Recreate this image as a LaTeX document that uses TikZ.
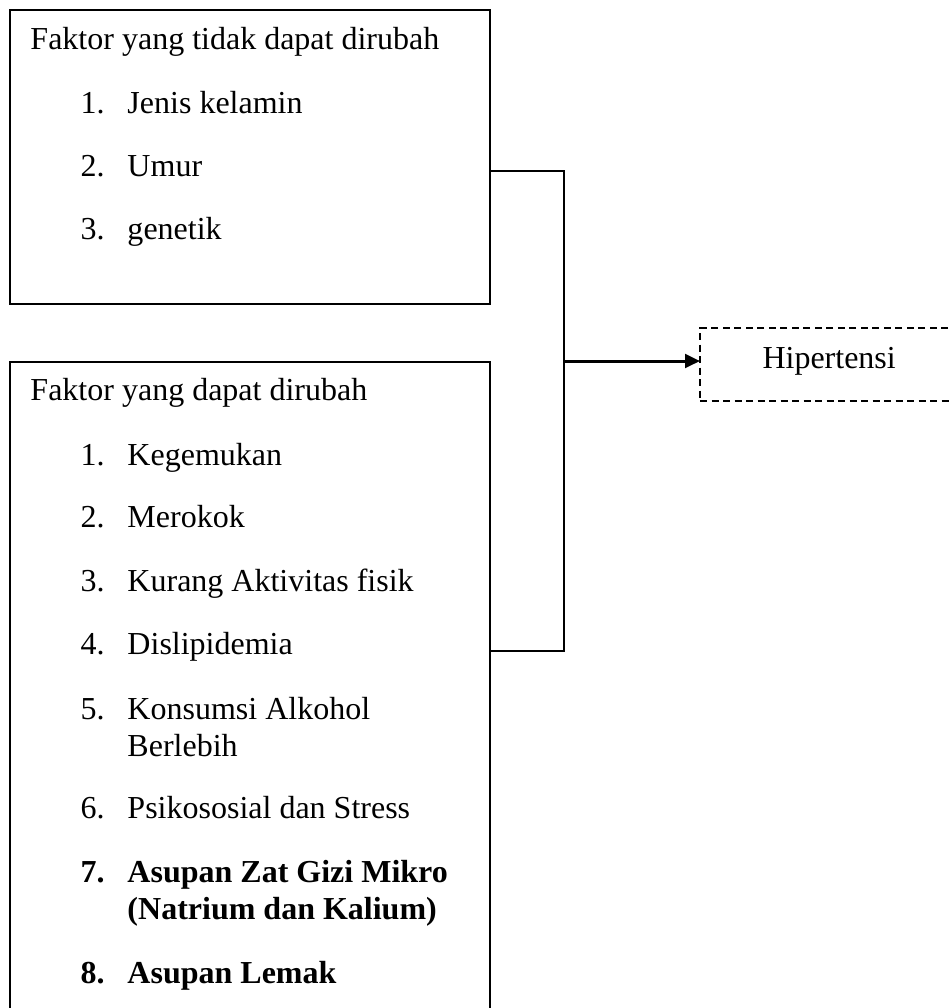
\documentclass[tikz,border=0pt]{standalone}
\usepackage{fontspec}
\setmainfont{Liberation Serif}
\usetikzlibrary{arrows.meta}
\begin{document}
\begin{tikzpicture}[x=0.4pt,y=-0.4pt,
  frame/.style={draw,line width=0.8pt,rectangle,inner sep=0pt,outer sep=0pt},
  txt/.style={anchor=base west,inner sep=0pt,font=\fontsize{12.8}{15}\selectfont},
  btxt/.style={txt,font=\fontsize{12.8}{15}\selectfont\bfseries},
  conn/.style={line width=0.8pt},
  arr/.style={line width=1.2pt,-{Triangle[length=6pt,width=5.5pt]}},
  dashbox/.style={draw,line width=0.6pt,dash pattern=on 2.8pt off 1.8pt,rectangle,inner sep=0pt,outer sep=0pt}]
\useasboundingbox (0,0) rectangle (948,1008);
\fill[white] (0,0) rectangle (948,1008);
% boxes
\node[frame,minimum width=192pt,minimum height=117.6pt] (box1) at (250,157) {};
\node[frame,minimum width=192pt,minimum height=271.2pt] (box2) at (250,701) {};
\node[dashbox,minimum width=104pt,minimum height=29.2pt] (hip) at (830,364.5) {};
\node[txt] (hiptxt) at (762,368) {Hipertensi};
% box 1 text
\node[txt] (t1) at (30,49) {Faktor yang tidak dapat dirubah};
\node[txt] (n11) at (80,113) {1.}; \node[txt] (i11) at (127,113) {Jenis kelamin};
\node[txt] (n12) at (80,176) {2.}; \node[txt] (i12) at (127,176) {Umur};
\node[txt] (n13) at (80,239) {3.}; \node[txt] (i13) at (127,239) {genetik};
% box 2 text
\node[txt] (t2) at (30,400) {Faktor yang dapat dirubah};
\node[txt] (n21) at (80,465) {1.}; \node[txt] (i21) at (127,465) {Kegemukan};
\node[txt] (n22) at (80,527) {2.}; \node[txt] (i22) at (127,527) {Merokok};
\node[txt] (n23) at (80,591) {3.}; \node[txt] (i23) at (127,591) {Kurang Aktivitas fisik};
\node[txt] (n24) at (80,654) {4.}; \node[txt] (i24) at (127,654) {Dislipidemia};
\node[txt] (n25) at (80,719) {5.}; \node[txt] (i25) at (127,719) {Konsumsi Alkohol};
\node[txt] (i25b) at (127,756) {Berlebih};
\node[txt] (n26) at (80,818) {6.}; \node[txt] (i26) at (127,818) {Psikososial dan Stress};
\node[btxt] (n27) at (80,882) {7.}; \node[btxt] (i27) at (127,882) {Asupan Zat Gizi Mikro};
\node[btxt] (i27b) at (127,919) {(Natrium dan Kalium)};
\node[btxt] (n28) at (80,983) {8.}; \node[btxt] (i28) at (127,983) {Asupan Lemak};
% connectors
\coordinate (j1) at (564,171);
\coordinate (j2) at (564,651);
\coordinate (j3) at (564,361);
\draw[conn] (box1.east |- j1) -- (j1) -- (j2) -- (box2.east |- j2);
\draw[arr] (j3) -- (j3 -| hip.west);
\end{tikzpicture}
\end{document}
